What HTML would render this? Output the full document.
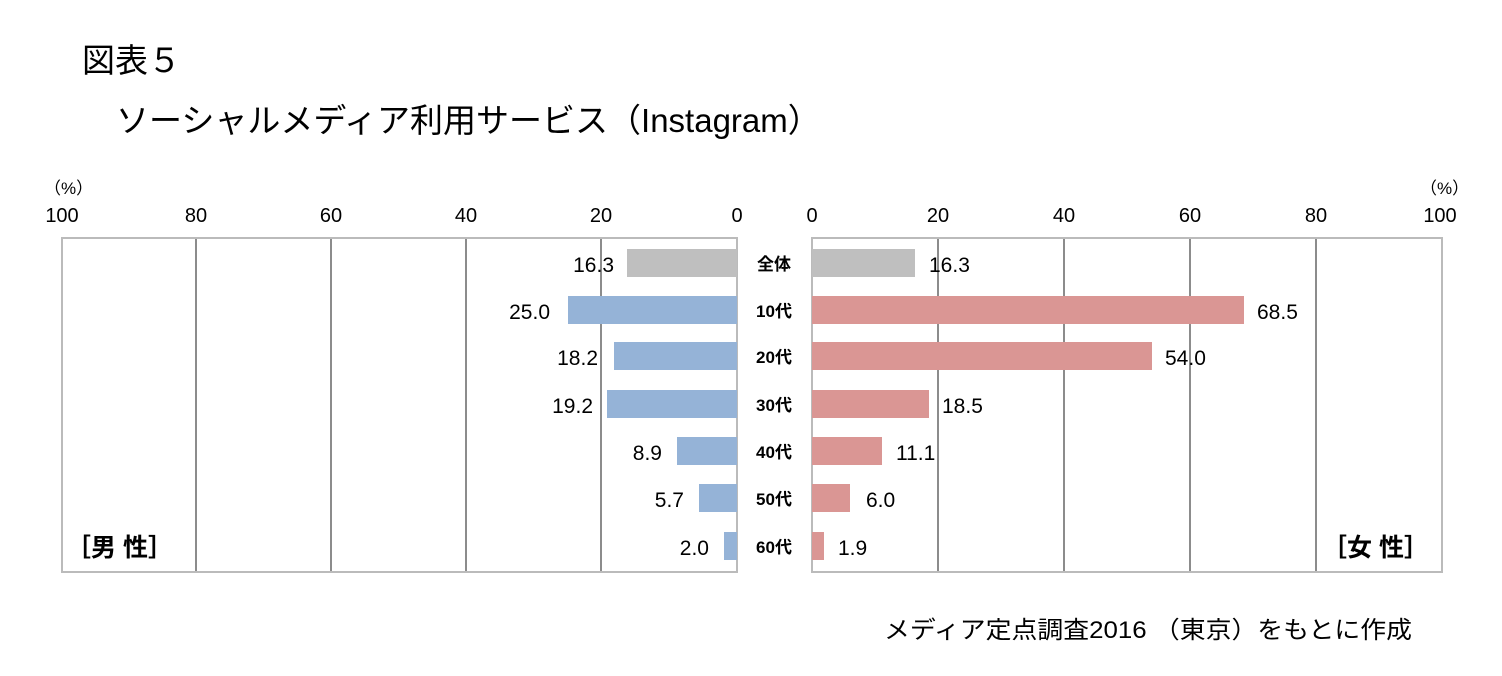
<!DOCTYPE html>
<html><head><meta charset="utf-8"><style>
body{margin:0;background:#fff;width:1502px;height:676px;overflow:hidden;position:relative;font-family:"Liberation Sans","Noto Sans CJK JP",sans-serif;}
.t{position:absolute;white-space:nowrap;color:#000;}
</style></head><body>
<div class="t" style="left:82px;top:34px;font-size:33px;">図表５</div>
<div class="t" style="left:116px;top:94px;font-size:33px;">ソーシャルメディア利用サービス（Instagram）</div>
<svg width="1502" height="676" style="position:absolute;left:0;top:0" font-family="Liberation Sans, Noto Sans CJK JP, sans-serif">
<g font-size="20" text-anchor="middle" fill="#000">
<text x="62" y="222">100</text><text x="196" y="222">80</text><text x="331" y="222">60</text><text x="466" y="222">40</text><text x="601" y="222">20</text><text x="737" y="222">0</text>
<text x="812" y="222">0</text><text x="938" y="222">20</text><text x="1064" y="222">40</text><text x="1190" y="222">60</text><text x="1316" y="222">80</text><text x="1440" y="222">100</text>
</g>
<text x="44" y="194" font-size="17">（%）</text>
<text x="1420" y="194" font-size="17">（%）</text>
<g stroke="#666" stroke-width="1.5">
<line x1="196" y1="238" x2="196" y2="572"/><line x1="331" y1="238" x2="331" y2="572"/><line x1="466" y1="238" x2="466" y2="572"/><line x1="601" y1="238" x2="601" y2="572"/>
<line x1="938" y1="238" x2="938" y2="572"/><line x1="1064" y1="238" x2="1064" y2="572"/><line x1="1190" y1="238" x2="1190" y2="572"/><line x1="1316" y1="238" x2="1316" y2="572"/>
</g>
<rect x="62" y="238" width="675" height="334" fill="none" stroke="#bbb" stroke-width="2"/>
<rect x="812" y="238" width="630" height="334" fill="none" stroke="#bbb" stroke-width="2"/>
<g>
<rect x="627" y="249" width="110" height="28" fill="#bfbfbf"/>
<rect x="568" y="296" width="169" height="28" fill="#95b3d7"/>
<rect x="614" y="342" width="123" height="28" fill="#95b3d7"/>
<rect x="607" y="390" width="130" height="28" fill="#95b3d7"/>
<rect x="677" y="437" width="60" height="28" fill="#95b3d7"/>
<rect x="699" y="484" width="38" height="28" fill="#95b3d7"/>
<rect x="724" y="532" width="13" height="28" fill="#95b3d7"/>
<rect x="812" y="249" width="103" height="28" fill="#bfbfbf"/>
<rect x="812" y="296" width="432" height="28" fill="#da9694"/>
<rect x="812" y="342" width="340" height="28" fill="#da9694"/>
<rect x="812" y="390" width="117" height="28" fill="#da9694"/>
<rect x="812" y="437" width="70" height="28" fill="#da9694"/>
<rect x="812" y="484" width="38" height="28" fill="#da9694"/>
<rect x="812" y="532" width="12" height="28" fill="#da9694"/>
</g>
<g font-size="21" text-anchor="end">
<text x="614" y="272">16.3</text><text x="550" y="319">25.0</text><text x="598" y="365">18.2</text><text x="593" y="413">19.2</text><text x="662" y="460">8.9</text><text x="684" y="507">5.7</text><text x="709" y="555">2.0</text>
</g>
<g font-size="21">
<text x="929" y="272">16.3</text><text x="1257" y="319">68.5</text><text x="1165" y="365">54.0</text><text x="942" y="413">18.5</text><text x="896" y="460">11.1</text><text x="866" y="507">6.0</text><text x="838" y="555">1.9</text>
</g>
<g font-size="17" font-weight="bold" text-anchor="middle">
<text x="774" y="270">全体</text><text x="774" y="317">10代</text><text x="774" y="363">20代</text><text x="774" y="411">30代</text><text x="774" y="458">40代</text><text x="774" y="505">50代</text><text x="774" y="553">60代</text>
</g>
<text x="66" y="556" font-size="25" font-weight="bold">［男 性］</text>
<text x="1322" y="556" font-size="25" font-weight="bold">［女 性］</text>
<text x="884" y="638" font-size="24" textLength="528" lengthAdjust="spacingAndGlyphs">メディア定点調査2016 （東京）をもとに作成</text>
</svg>
</body></html>
